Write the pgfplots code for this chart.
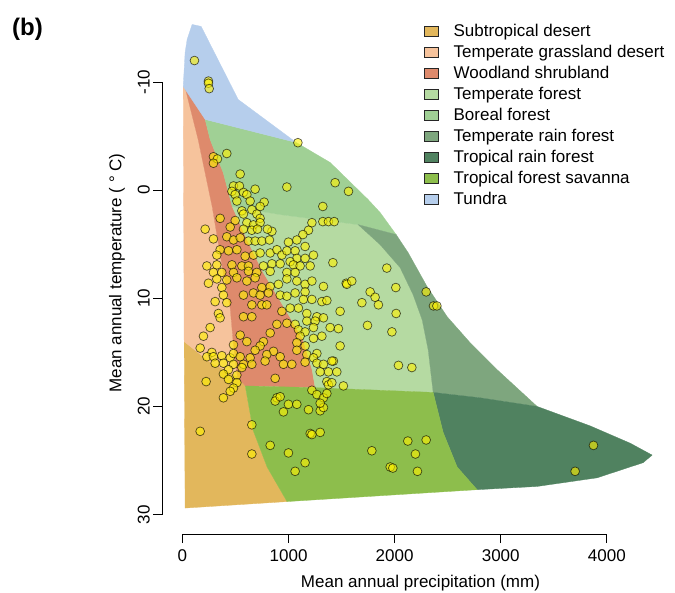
\documentclass[border=0pt]{standalone}
\usepackage{pgfplots}
\pgfplotsset{compat=1.18}
\usepackage{fontspec}
\setmainfont{Liberation Sans}
\definecolor{cDes}{HTML}{E2B75C}
\definecolor{cGra}{HTML}{F6C39C}
\definecolor{cWoo}{HTML}{DE8A6C}
\definecolor{cTF}{HTML}{B5DAA2}
\definecolor{cBor}{HTML}{A0D095}
\definecolor{cTRF}{HTML}{7EA67E}
\definecolor{cTrRF}{HTML}{508260}
\definecolor{cSav}{HTML}{8DBE4C}
\definecolor{cTun}{HTML}{B6CEEC}

\pgfplotstableread{
P T
113 -12.0
245 -10.1
245 -9.9
252 -9.4
1088 -4.4
292 -3.1
330 -2.9
292 -2.5
418 -3.4
544 -1.5
984 -0.3
1439 -0.7
1565 0.1
481 -0.4
537 -0.4
466 0.1
497 0.4
575 0.2
685 -0.1
607 0.4
513 1.0
638 1.0
770 1.1
732 1.5
1323 1.5
560 1.9
654 1.8
575 2.2
701 2.2
732 2.6
355 2.6
497 2.8
607 3.0
669 3.2
732 3.0
843 3.8
801 3.6
214 3.6
450 3.4
575 3.6
654 3.7
707 3.6
1220 3.0
1323 2.9
1376 2.9
1430 2.9
1188 3.7
1135 4.1
292 4.5
418 4.3
481 4.6
544 4.4
622 4.7
685 4.7
748 4.7
820 4.6
1078 4.6
999 4.8
1156 5.2
355 5.5
434 5.6
513 5.5
324 6.0
591 6.1
669 6.0
732 5.8
827 5.8
890 5.5
937 6.0
984 5.6
1062 5.6
1078 6.3
1156 6.3
1235 6.0
1418 6.7
230 7.0
324 6.9
466 6.9
560 7.0
622 7.0
763 7.0
843 6.8
921 6.8
1015 6.6
1046 6.9
1109 7.0
1204 7.0
292 7.6
371 7.6
481 7.6
622 7.5
701 7.6
827 7.5
984 7.6
1062 7.6
245 8.6
324 8.2
371 9.0
418 8.3
513 8.1
607 8.4
685 8.1
748 9.0
827 8.9
905 8.7
984 8.2
1078 8.4
1156 8.7
1220 8.4
1329 8.9
1543 8.6
308 10.3
386 9.7
418 10.4
575 9.7
669 9.5
732 9.7
811 9.5
748 10.6
795 10.6
654 10.6
921 9.7
984 9.8
1062 9.5
1156 9.4
1140 10.1
1220 10.1
1314 10.3
1361 10.2
937 11.2
1015 10.9
1093 10.9
1172 11.4
1267 11.7
1486 11.2
339 11.4
355 11.8
575 11.7
654 11.7
261 12.7
198 13.5
890 12.4
984 12.3
1062 12.4
1172 12.1
1251 12.1
1329 11.8
1093 12.9
1156 13.1
1235 12.7
1109 13.5
1235 13.7
1314 13.5
1392 12.7
1470 12.8
544 13.4
607 14.0
827 13.2
763 14.0
481 14.3
732 14.4
685 14.8
858 14.9
921 15.4
1078 14.1
1156 14.4
1267 15.1
1172 15.2
1078 14.8
1486 14.4
167 14.6
277 15.0
230 15.4
292 15.4
371 15.3
450 15.5
481 15.1
544 15.4
638 15.5
795 15.2
308 16.0
386 16.0
481 16.1
575 16.1
654 16.1
779 15.8
952 16.1
1031 16.1
1156 15.9
1235 15.5
1267 16.0
1329 16.1
1423 15.8
434 16.6
386 17.0
513 17.1
560 16.4
1298 16.8
1376 16.8
1455 16.8
223 17.7
434 17.5
513 17.8
481 18.3
874 17.4
1361 17.7
1376 18.0
1517 18.1
450 18.6
386 19.2
1220 18.5
890 19.2
874 19.5
921 19.1
1267 18.9
1329 19.2
1361 18.8
999 19.8
1078 19.8
952 20.5
1188 20.3
1298 20.4
1329 20.1
1298 19.7
654 21.7
167 22.3
1204 22.5
1220 22.6
1298 22.4
827 23.6
654 24.4
999 24.3
1156 25.2
1062 26.0
1926 7.2
1549 8.7
1596 8.4
2011 9.0
1769 9.4
1816 9.9
1847 10.6
1691 10.4
1744 12.5
2014 11.4
1974 13.1
2297 9.4
2366 10.7
2398 10.7
1408 15.8
2036 16.2
2162 16.4
1785 24.1
2124 23.2
2297 23.1
2196 24.4
1958 25.6
1983 25.7
2215 26.0
3874 23.6
3701 26.0
1408 17.8
}\sites

\begin{document}
\begin{tikzpicture}
\path[use as bounding box] (0pt,0pt) rectangle (675pt,592pt);
\node[anchor=base west, inner sep=0pt, font=\fontsize{24}{28}\selectfont\bfseries] at (12pt,556pt) {(b)};
\begin{axis}[
  at={(162.3pt,58pt)}, anchor=south west,
  scale only axis, width=508.2pt, height=522.1pt,
  xmin=-190, xmax=4600, ymin=-16.5, ymax=31.8, y dir=reverse,
  clip=false,
  axis line style={draw=none},
  xtick={0,1000,2000,3000,4000}, xticklabels={0,1000,2000,3000,4000},
  ytick={-10,0,10,20,30}, yticklabels={-10,0,10,20,30},
  xtick pos=left, ytick pos=left,
  tick align=outside, major tick length=9pt,
  tick style={black, line width=0.9pt},
  ticklabel style={font=\fontsize{17}{20}\selectfont},
  xticklabel shift=3pt,
  yticklabel style={rotate=90, anchor=south},
  xlabel={Mean annual precipitation (mm)},
  ylabel={Mean annual temperature ( ° C)},
  every axis x label/.style={at={(axis description cs:0.508,-0.1015)}, anchor=base, font=\fontsize{17}{20}\selectfont},
  every axis y label/.style={at={(axis description cs:-0.089,0.5)}, rotate=90, anchor=center, font=\fontsize{17}{20}\selectfont},
  legend image code/.code={\draw[#1, draw=black!85, line width=0.8pt] (0pt,-4pt) rectangle (14pt,6pt); \path[draw=none, fill=none] (0pt,0pt) -- (28pt,0pt);},
  legend style={at={(axis description cs:0.515,0.979)}, anchor=north west, draw=none, fill=none,
    inner sep=0pt, row sep=3pt, column sep=0pt, font=\fontsize{17}{20}\selectfont,
    nodes={inner sep=1pt, text height=12.5pt, text depth=3.5pt}, cells={anchor=west}},
  legend cell align=left,
]
\addplot[fill=cDes, draw=cDes, line width=0.3pt] coordinates {
(16,14.0) (261,15.9) (516,17.2) (592,18.1) (666,22.2) (798,25.6) (986,28.8) (25,29.4)} -- cycle;
\addlegendentry{Subtropical desert}
\addplot[fill=cGra, draw=cGra, line width=0.3pt] coordinates {
(7,-9.6) (25,-9.5) (148,-4.7) (280,1.5) (384,7.6) (450,10.9) (478,14.0) (516,17.2) (261,15.9) (16,14.0)} -- cycle;
\addlegendentry{Temperate grassland desert}
\addplot[fill=cWoo, draw=cWoo, line width=0.3pt] coordinates {
(25,-9.5) (214,-6.55) (261,-4.69) (384,-1.64) (469,1.5) (610,4.6) (761,7.6) (968,11.0) (1137,13.8) (1222,16.6) (1251,18.26) (592,18.1) (516,17.2) (478,14.0) (450,10.9) (384,7.6) (280,1.5) (148,-4.7)} -- cycle;
\addlegendentry{Woodland shrubland}
\addplot[fill=cTF, draw=cTF, line width=0.3pt] coordinates {
(469,1.5) (921,2.25) (1656,3.18) (1863,5.03) (2052,7.16) (2174,9.66) (2259,11.97) (2316,14.75) (2363,18.7) (1251,18.26) (1222,16.6) (1137,13.8) (968,11.0) (761,7.6) (610,4.6)} -- cycle;
\addlegendentry{Temperate forest}
\addplot[fill=cBor, draw=cBor, line width=0.3pt] coordinates {
(214,-6.55) (1072,-4.42) (1392,-2.57) (1750,0.86) (1863,2.06) (2014,4.10) (1656,3.18) (921,2.25) (469,1.5) (384,-1.64) (261,-4.69)} -- cycle;
\addlegendentry{Boreal forest}
\addplot[fill=cTRF, draw=cTRF, line width=0.3pt] coordinates {
(1656,3.18) (2014,4.10) (2127,5.77) (2306,8.92) (2495,11.7) (2711,14.1) (2966,16.6) (3343,20.0) (2806,19.2) (2363,18.7) (2316,14.75) (2259,11.97) (2174,9.66) (2052,7.16) (1863,5.03)} -- cycle;
\addlegendentry{Temperate rain forest}
\addplot[fill=cTrRF, draw=cTrRF, line width=0.3pt] coordinates {
(2363,18.7) (2806,19.2) (3343,20.0) (3843,21.8) (4220,23.4) (4427,24.5) (4342,25.2) (3909,26.6) (3343,27.4) (2777,27.7) (2589,25.6) (2457,22.4)} -- cycle;
\addlegendentry{Tropical rain forest}
\addplot[fill=cSav, draw=cSav, line width=0.3pt] coordinates {
(592,18.1) (1251,18.26) (2363,18.7) (2457,22.4) (2589,25.6) (2777,27.7) (986,28.8) (798,25.6) (666,22.2)} -- cycle;
\addlegendentry{Tropical forest savanna}
\addplot[fill=cTun, draw=cTun, line width=0.3pt] coordinates {
(91,-15.34) (176,-15.16) (525,-8.40) (1072,-4.42) (214,-6.55) (7,-9.6) (25,-12.75) (44,-13.95)} -- cycle;
\addlegendentry{Tundra}
\addplot[only marks, mark=*, mark size=4.4pt, forget plot,
  mark options={fill=yellow, fill opacity=0.6, draw=black, draw opacity=0.65, line width=0.7pt}]
  table[x=P, y=T] {\sites};
\draw[line width=0.9pt] (axis cs:0,31.8) -- (axis cs:4000,31.8);
\draw[line width=0.9pt] (axis cs:-190,-10) -- (axis cs:-190,30);
\end{axis}
\end{tikzpicture}
\end{document}
